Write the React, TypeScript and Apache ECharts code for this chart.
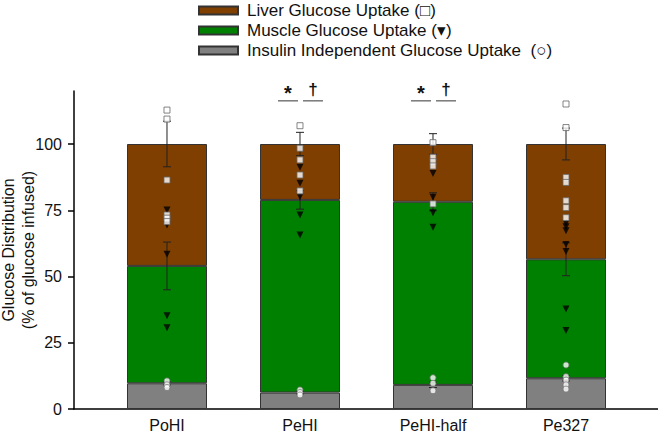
import React, { useEffect, useRef } from 'react';
import * as echarts from 'echarts';

const categories = ['PoHI', 'PeHI', 'PeHI-half', 'Pe327'];
const seriesNames = [
  'Liver Glucose Uptake (□)',
  'Muscle Glucose Uptake (▾)',
  'Insulin Independent Glucose Uptake  (○)',
];
const insulinIndependent = [9.7, 6.2, 9.1, 11.6];
const muscle = [44.3, 72.7, 69.1, 44.9];
const liver = [46.0, 21.1, 21.8, 43.5];
const insulinIndependentSem = [0.6, 0.5, 1.0, 1.0];
const muscleSem = [9.0, 3.5, 3.4, 6.2];
const liverSem = [8.6, 4.4, 3.9, 6.0];

const liverPoints = [
  [112.8, 109.4, 86.4, 73.2, 72.0, 70.7],
  [106.9, 98.4, 94.0, 88.3, 82.3],
  [100.5, 95.0, 93.3, 91.7, 77.4],
  [115.1, 106.2, 87.4, 85.5, 78.6, 76.0, 72.2],
];
const musclePoints = [
  [75.1, 69.4, 58.4, 35.2, 30.7],
  [91.2, 85.2, 80.1, 73.2, 65.7],
  [88.9, 79.9, 74.1, 68.6],
  [70.1, 68.8, 67.3, 62.1, 59.4, 37.7, 29.6],
];
const insulinPoints = [
  [10.6, 9.1, 8.1],
  [7.2, 6.2, 5.3],
  [11.8, 9.7, 6.9],
  [16.6, 12.2, 10.9, 9.1, 7.5],
];
const significantCategories = [1, 2];
const significanceMarks = ['*', '†'];
const yTicks = [0, 25, 50, 75, 100];

const FONT = 'Liberation Sans, Arial, sans-serif';

export default function App() {
  const ref = useRef<HTMLDivElement>(null);
  useEffect(() => {
    if (!ref.current) return;
    const chart = echarts.init(ref.current, undefined, { renderer: 'svg' });

    const muscleTop = muscle.map((m, i) => m + insulinIndependent[i]);
    const liverTop = liver.map((l, i) => l + muscleTop[i]);
    const errData: number[][] = [];
    categories.forEach((_, i) => {
      errData.push([i, insulinIndependent[i], insulinIndependentSem[i]]);
      errData.push([i, muscleTop[i], muscleSem[i]]);
      errData.push([i, liverTop[i], liverSem[i]]);
    });
    const flat = (arr: number[][]) => arr.flatMap((vals, i) => vals.map((v) => [i, v]));

    const barStyle = { borderColor: '#333', borderWidth: 1 };
    const barCommon = {
      type: 'bar',
      stack: 'total',
      barWidth: 80,
      xAxisIndex: 1,
      yAxisIndex: 1,
      z: 2,
    };

    chart.setOption({
      animation: false,
      textStyle: { fontFamily: FONT },
      legend: {
        orient: 'vertical',
        left: 198,
        top: 2,
        padding: 0,
        itemWidth: 39,
        itemHeight: 8,
        itemGap: 3,
        icon: 'rect',
        data: seriesNames,
        textStyle: { fontSize: 17, color: '#111', fontFamily: FONT, padding: [0, 0, 0, 4] },
      },
      grid: [
        { left: 74, right: 0, top: 91, bottom: 31, outerBoundsMode: 'none', containLabel: false },
        { left: 100.5, right: 25.5, top: 91, bottom: 31, outerBoundsMode: 'none', containLabel: false },
      ],
      xAxis: [
        {
          type: 'value',
          gridIndex: 0,
          min: -0.6992,
          max: 3.6917,
          splitLine: { show: false },
          axisTick: { show: false },
          axisLine: { show: true, onZero: false, lineStyle: { color: '#000', width: 1.5 } },
          axisLabel: {
            customValues: [0, 1, 2, 3],
            formatter: (v: number) => categories[Math.round(v)] ?? '',
            fontSize: 16,
            color: '#111',
            margin: 8,
            fontFamily: FONT,
          },
        },
        {
          type: 'category',
          gridIndex: 1,
          data: categories,
          show: false,
        },
      ],
      yAxis: [
        {
          type: 'value',
          gridIndex: 0,
          min: 0,
          max: 120,
          name: 'Glucose Distribution\n(% of glucose infused)',
          nameLocation: 'middle',
          nameGap: 36,
          nameMoveOverlap: false,
          nameTextStyle: { fontSize: 16, color: '#111', fontFamily: FONT, lineHeight: 20 },
          splitLine: { show: false },
          axisLine: { show: true, onZero: false, lineStyle: { color: '#000', width: 1.5 } },
          axisTick: { show: true, customValues: yTicks, length: 6, lineStyle: { color: '#000', width: 1.5 } },
          axisLabel: {
            customValues: yTicks,
            fontSize: 16,
            color: '#111',
            margin: 12,
            fontFamily: FONT,
          },
        },
        {
          type: 'value',
          gridIndex: 1,
          min: 0,
          max: 120,
          show: false,
          splitLine: { show: false },
        },
      ],
      series: [
        {
          ...barCommon,
          name: seriesNames[2],
          itemStyle: { color: '#808080', ...barStyle },
          data: insulinIndependent,
        },
        {
          ...barCommon,
          name: seriesNames[1],
          itemStyle: { color: '#008000', ...barStyle },
          data: muscle,
        },
        {
          ...barCommon,
          name: seriesNames[0],
          itemStyle: { color: '#7F3F00', ...barStyle },
          data: liver,
        },
        {
          name: 'errors',
          type: 'custom',
          z: 3,
          clip: false,
          data: errData,
          renderItem: (params: any, api: any) => {
            const x = api.value(0);
            const mid = api.value(1);
            const e = api.value(2);
            const t = api.coord([x, mid + e]);
            const b = api.coord([x, mid - e]);
            const st = { stroke: '#222', lineWidth: 1 };
            return {
              type: 'group',
              children: [
                { type: 'line', shape: { x1: t[0], y1: t[1], x2: b[0], y2: b[1] }, style: st },
                { type: 'line', shape: { x1: t[0] - 4, y1: t[1], x2: t[0] + 4, y2: t[1] }, style: st },
                { type: 'line', shape: { x1: b[0] - 4, y1: b[1], x2: b[0] + 4, y2: b[1] }, style: st },
              ],
            };
          },
        },
        {
          name: 'insulinPts',
          type: 'scatter',
          z: 4,
          symbol: 'circle',
          symbolSize: 6,
          itemStyle: { color: '#fff', borderColor: '#777', borderWidth: 1 },
          data: flat(insulinPoints),
        },
        {
          name: 'musclePts',
          type: 'scatter',
          z: 4,
          symbol: 'triangle',
          symbolRotate: 180,
          symbolSize: 7,
          itemStyle: { color: '#000', borderColor: '#000', borderWidth: 0 },
          data: flat(musclePoints),
        },
        {
          name: 'liverPts',
          type: 'scatter',
          z: 4,
          symbol: 'rect',
          symbolSize: 6,
          itemStyle: { color: '#fff', borderColor: '#666', borderWidth: 1 },
          data: flat(liverPoints),
        },
        {
          name: 'significance',
          type: 'custom',
          z: 5,
          clip: false,
          data: significantCategories.map((c) => [c, 116.3]),
          renderItem: (params: any, api: any) => {
            const p = api.coord([api.value(0), api.value(1)]);
            const cx = p[0];
            const y = p[1];
            const lineSt = { stroke: '#777', lineWidth: 1.5 };
            return {
              type: 'group',
              children: [
                { type: 'line', shape: { x1: cx - 22, y1: y, x2: cx - 2, y2: y }, style: lineSt },
                { type: 'line', shape: { x1: cx + 3, y1: y, x2: cx + 23, y2: y }, style: lineSt },
                {
                  type: 'text',
                  style: {
                    text: significanceMarks[0],
                    x: cx - 12,
                    y: y + 2,
                    align: 'center',
                    verticalAlign: 'bottom',
                    font: `bold 20px ${FONT}`,
                    fill: '#111',
                  },
                },
                {
                  type: 'text',
                  style: {
                    text: significanceMarks[1],
                    x: cx + 13,
                    y: y - 3,
                    align: 'center',
                    verticalAlign: 'bottom',
                    font: `bold 17px ${FONT}`,
                    fill: '#111',
                  },
                },
              ],
            };
          },
        },
      ],
    });
    return () => chart.dispose();
  }, []);
  return (
    <div
      ref={ref}
      style={{ position: 'fixed', left: 0, top: 0, width: 658, height: 440, background: '#fff' }}
    />
  );
}
